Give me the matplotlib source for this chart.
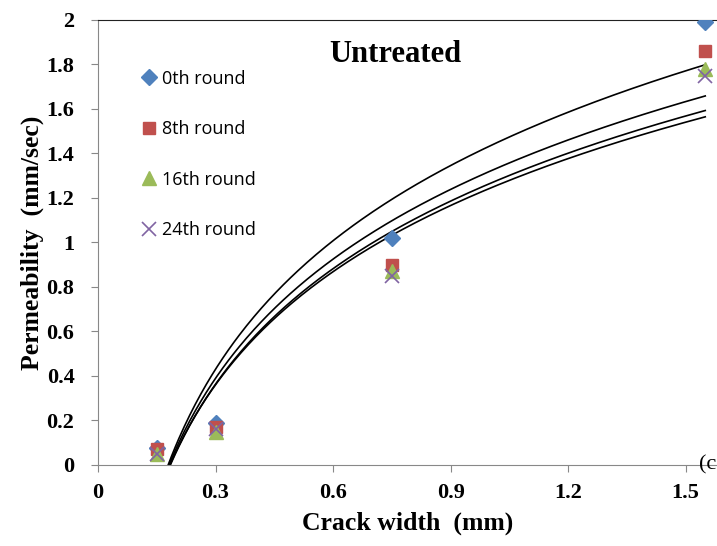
import numpy as np
import matplotlib
matplotlib.use("Agg")
import matplotlib.pyplot as plt

# crack widths (mm) and permeability (mm/sec)
crack_width = [0.15, 0.30, 0.75, 1.55]
perm_0th = [0.076, 0.19, 1.02, 1.99]
perm_8th = [0.07, 0.17, 0.90, 1.86]
perm_16th = [0.05, 0.15, 0.87, 1.78]
perm_24th = [0.05, 0.16, 0.85, 1.75]

series_names = ["0th round", "8th round", "16th round", "24th round"]
x_ticks = [0, 0.3, 0.6, 0.9, 1.2, 1.5]
y_ticks = [0, 0.2, 0.4, 0.6, 0.8, 1, 1.2, 1.4, 1.6, 1.8, 2]


def log_fit(x, y):
    """Logarithmic trendline y = a*ln(x) + b, like Excel's."""
    a, b = np.polyfit(np.log(x), y, 1)
    return a, b


def main():
    serif = ["Liberation Serif", "DejaVu Serif"]
    fig = plt.figure(figsize=(7.17, 5.46), dpi=100)
    ax = fig.add_axes([0.1367, 0.1484, 0.8633, 0.815])

    styles = [
        dict(marker="D", color="#4F81BD", ms=8),
        dict(marker="s", color="#C0504D", ms=9),
        dict(marker="^", color="#9BBB59", ms=10),
        dict(marker="x", color="#8064A2", ms=10, mew=1.2),
    ]
    all_series = [perm_0th, perm_8th, perm_16th, perm_24th]

    xs = np.linspace(min(crack_width), max(crack_width), 300)
    for y in all_series:
        a, b = log_fit(crack_width, y)
        ax.plot(xs, a * np.log(xs) + b, color="black", lw=1.2, zorder=2)

    for y, name, st in zip(all_series, series_names, styles):
        ax.plot(crack_width, y, linestyle="none", label=name, zorder=3, **st)

    ax.set_xlim(0, 1.58)
    ax.set_ylim(0, 2)
    ax.set_xticks(x_ticks)
    ax.set_yticks(y_ticks)
    ax.set_xticklabels(["%g" % t for t in x_ticks])
    ax.set_yticklabels(["%g" % t for t in y_ticks])
    for lab in ax.get_xticklabels() + ax.get_yticklabels():
        lab.set_family(serif)
        lab.set_fontweight("bold")
        lab.set_fontsize(16)
    ax.tick_params(direction="out", length=5, color="#888888", pad=8)
    ax.tick_params(axis="y", pad=12)

    ax.spines["right"].set_visible(False)
    ax.spines["left"].set_color("#888888")
    ax.spines["bottom"].set_color("#888888")
    ax.spines["top"].set_color("#222222")

    ax.set_xlabel("Crack width  (mm)", family=serif, fontweight="bold", fontsize=18.5, labelpad=6)
    ax.set_ylabel("Permeability  (mm/sec)", family=serif, fontweight="bold", fontsize=18.5, labelpad=2)
    ax.text(0.481, 0.922, "Untreated", transform=ax.transAxes, ha="center", va="center",
            family=serif, fontweight="bold", fontsize=22)

    ax.legend(loc="upper left", bbox_to_anchor=(0.045, 0.925), frameon=False,
              labelspacing=1.8, handlelength=0.8, handletextpad=0.3,
              prop={"family": ["Open Sans", "DejaVu Sans"], "size": 13})

    fig.text(699 / 717, 1 - 465 / 546, "(c", family=serif, fontsize=16, va="center")

    fig.savefig("out.png", dpi=100)


if __name__ == "__main__":
    main()
